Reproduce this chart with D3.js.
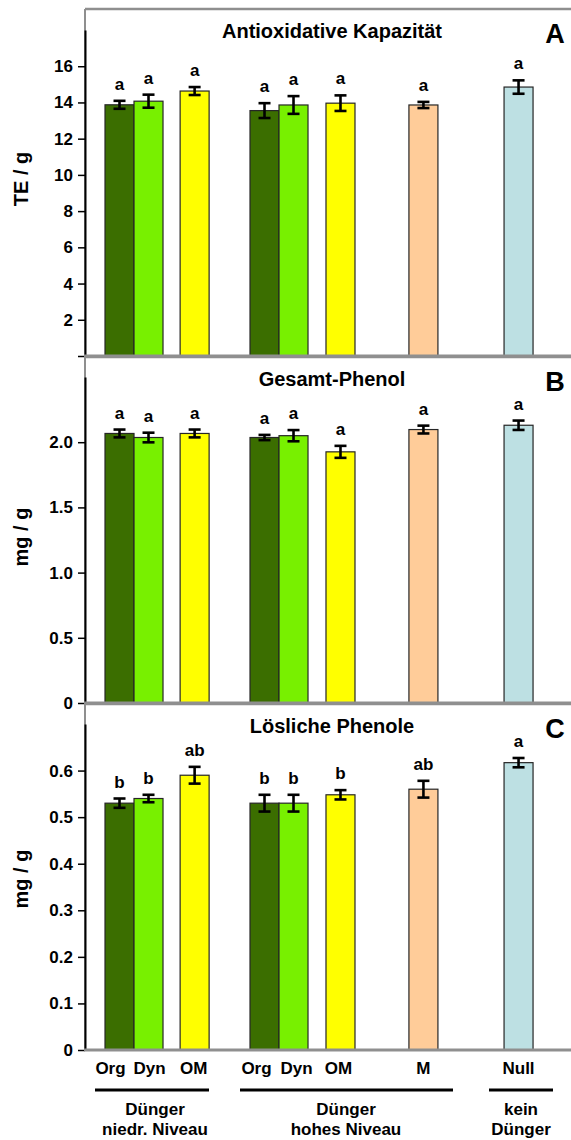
<!DOCTYPE html>
<html>
<head>
<meta charset="utf-8">
<script src="https://cdn.jsdelivr.net/npm/d3@7"></script>
<style>
body { margin: 0; background: #fff; }
text { font-family: "Liberation Sans", Arial, sans-serif; font-weight: bold; fill: #000; }
</style>
</head>
<body>
<div id="chart"></div>
<script>
"use strict";

var width = 571, height = 1140;

// treatments in drawing order
var treatments = ["Org", "Dyn", "OM", "Org", "Dyn", "OM", "M", "Null"];

// A: Antioxidative Kapazität (TE / g)
var antioxMean = [13.87, 14.07, 14.63, 13.55, 13.86, 13.96, 13.86, 14.85];
var antioxErr = [0.22, 0.36, 0.22, 0.41, 0.49, 0.43, 0.17, 0.37];
var antioxSig = ["a", "a", "a", "a", "a", "a", "a", "a"];

// B: Gesamt-Phenol (mg / g)
var phenolMean = [2.067, 2.036, 2.067, 2.036, 2.05, 1.926, 2.097, 2.13];
var phenolErr = [0.03, 0.037, 0.03, 0.02, 0.043, 0.046, 0.03, 0.036];
var phenolSig = ["a", "a", "a", "a", "a", "a", "a", "a"];

// C: Lösliche Phenole (mg / g)
var solubleMean = [0.53, 0.54, 0.59, 0.53, 0.53, 0.548, 0.56, 0.617];
var solubleErr = [0.01, 0.008, 0.018, 0.018, 0.018, 0.01, 0.018, 0.01];
var solubleSig = ["b", "b", "ab", "b", "b", "b", "ab", "a"];

var groupLabels = [["Dünger", "niedr. Niveau"], ["Dünger", "hohes Niveau"], ["kein", "Dünger"]];

var colors = {Org: "#3b6e00", Dyn: "#78f000", OM: "#ffff00", M: "#ffcc99", Null: "#bde0e3"};

// layout: left edge of each bar, in bar widths from the axis
var barSlot = [0.69, 1.69, 3.28, 5.69, 6.69, 8.31, 11.17, 14.45];
// small horizontal nudges of the category labels (px)
var catNudge = [-9, 1, -1, -8, 3, -2, 0, 0];
var groupSpan = [[95, 209], [240, 453], [489, 553]];
var groupCenter = [155, 346, 521];

var axisX = 85, barW = 29;
var x = d3.scaleLinear().domain([0, 1]).range([axisX, axisX + barW]);

var fmt1 = function (d) { return d === 0 ? "0" : d3.format(".1f")(d); };

var panels = [
    {title: "Antioxidative Kapazität", letter: "A", unit: "TE / g",
     mean: antioxMean, err: antioxErr, sig: antioxSig,
     max: 18, ticks: d3.range(0, 17, 2), fmt: function (d) { return d === 0 ? "" : d; },
     top: 9, base: 356, unitY: 179},
    {title: "Gesamt-Phenol", letter: "B", unit: "mg / g",
     mean: phenolMean, err: phenolErr, sig: phenolSig,
     max: 2.5, ticks: [0, 0.5, 1, 1.5, 2], fmt: fmt1,
     top: 357, base: 703, unitY: 537},
    {title: "Lösliche Phenole", letter: "C", unit: "mg / g",
     mean: solubleMean, err: solubleErr, sig: solubleSig,
     max: 0.7, ticks: d3.range(0, 7).map(function (i) { return i / 10; }), fmt: fmt1,
     top: 704, base: 1050, unitY: 879}
];

var svg = d3.select("#chart").append("svg")
    .attr("width", width)
    .attr("height", height);

panels.forEach(drawPanel);

function drawPanel(p) {
    var y = d3.scaleLinear().domain([0, p.max]).range([p.base, p.base - 326]);
    var g = svg.append("g");

    // grey frame
    g.append("line")
        .attr("x1", axisX).attr("x2", width)
        .attr("y1", p.top).attr("y2", p.top)
        .attr("stroke", "#8f8f8f").attr("stroke-width", 2.5);
    g.append("line")
        .attr("x1", axisX).attr("x2", axisX)
        .attr("y1", p.top).attr("y2", p.base)
        .attr("stroke", "#8f8f8f").attr("stroke-width", 2);

    var rows = treatments.map(function (t, i) {
        return {name: t, mean: p.mean[i], err: p.err[i], sig: p.sig[i], slot: barSlot[i]};
    });

    g.selectAll("rect.bar")
        .data(rows)
        .enter().append("rect")
        .attr("class", "bar")
        .attr("x", function (d) { return x(d.slot); })
        .attr("width", barW)
        .attr("y", function (d) { return y(d.mean); })
        .attr("height", function (d) { return p.base - y(d.mean); })
        .attr("fill", function (d) { return colors[d.name]; })
        .attr("stroke", "#262626")
        .attr("stroke-width", 1.2);

    var eb = g.selectAll("g.err")
        .data(rows)
        .enter().append("g")
        .attr("class", "err")
        .attr("transform", function (d) { return "translate(" + x(d.slot + 0.5) + ",0)"; })
        .attr("stroke", "#000")
        .attr("stroke-width", 2.6);
    eb.append("line")
        .attr("y1", function (d) { return y(d.mean - d.err); })
        .attr("y2", function (d) { return y(d.mean + d.err); });
    eb.append("line")
        .attr("x1", -6).attr("x2", 6)
        .attr("y1", function (d) { return y(d.mean + d.err); })
        .attr("y2", function (d) { return y(d.mean + d.err); });
    eb.append("line")
        .attr("x1", -6).attr("x2", 6)
        .attr("y1", function (d) { return y(d.mean - d.err); })
        .attr("y2", function (d) { return y(d.mean - d.err); });

    g.selectAll("text.sig")
        .data(rows)
        .enter().append("text")
        .attr("class", "sig")
        .attr("x", function (d) { return x(d.slot + 0.5); })
        .attr("y", function (d) { return y(d.mean + d.err) - 11; })
        .attr("text-anchor", "middle")
        .style("font-size", "17px")
        .text(function (d) { return d.sig; });

    var axis = g.append("g")
        .attr("transform", "translate(" + axisX + ",0)")
        .call(d3.axisLeft(y).tickValues(p.ticks).tickFormat(p.fmt)
            .tickSize(7).tickSizeOuter(0).tickPadding(5));
    axis.select(".domain").attr("stroke", "#000").attr("stroke-width", 2);
    axis.selectAll(".tick line").attr("stroke", "#000").attr("stroke-width", 1.5);
    axis.selectAll(".tick text")
        .style("font-size", "17px")
        .style("font-family", "'Liberation Sans', Arial, sans-serif")
        .style("font-weight", "bold")
        .attr("fill", "#000");

    // baseline
    g.append("line")
        .attr("x1", axisX - 1).attr("x2", width)
        .attr("y1", p.base).attr("y2", p.base)
        .attr("stroke", "#8f8f8f").attr("stroke-width", 3);

    g.append("text")
        .attr("x", 332).attr("y", p.top + 29)
        .attr("text-anchor", "middle")
        .style("font-size", "20px")
        .text(p.title);

    g.append("text")
        .attr("x", 555).attr("y", p.top + 34)
        .attr("text-anchor", "middle")
        .style("font-size", "27px")
        .text(p.letter);

    g.append("text")
        .attr("transform", "translate(28," + p.unitY + ") rotate(-90)")
        .attr("text-anchor", "middle")
        .style("font-size", "20px")
        .text(p.unit);
}

// category labels under the last panel
svg.selectAll("text.cat")
    .data(treatments)
    .enter().append("text")
    .attr("class", "cat")
    .attr("x", function (d, i) { return x(barSlot[i] + 0.5) + catNudge[i]; })
    .attr("y", 1074)
    .attr("text-anchor", "middle")
    .style("font-size", "17px")
    .text(function (d) { return d; });

svg.selectAll("line.grp")
    .data(groupSpan)
    .enter().append("line")
    .attr("class", "grp")
    .attr("x1", function (d) { return d[0]; })
    .attr("x2", function (d) { return d[1]; })
    .attr("y1", 1090).attr("y2", 1090)
    .attr("stroke", "#000").attr("stroke-width", 3);

var gl = svg.selectAll("text.grp")
    .data(groupLabels)
    .enter().append("text")
    .attr("class", "grp")
    .attr("text-anchor", "middle")
    .style("font-size", "17px");
gl.selectAll("tspan")
    .data(function (d, i) { return d.map(function (s) { return {s: s, i: i}; }); })
    .enter().append("tspan")
    .attr("x", function (d) { return groupCenter[d.i]; })
    .attr("y", function (d, j) { return 1115 + j * 20; })
    .text(function (d) { return d.s; });
</script>
</body>
</html>
